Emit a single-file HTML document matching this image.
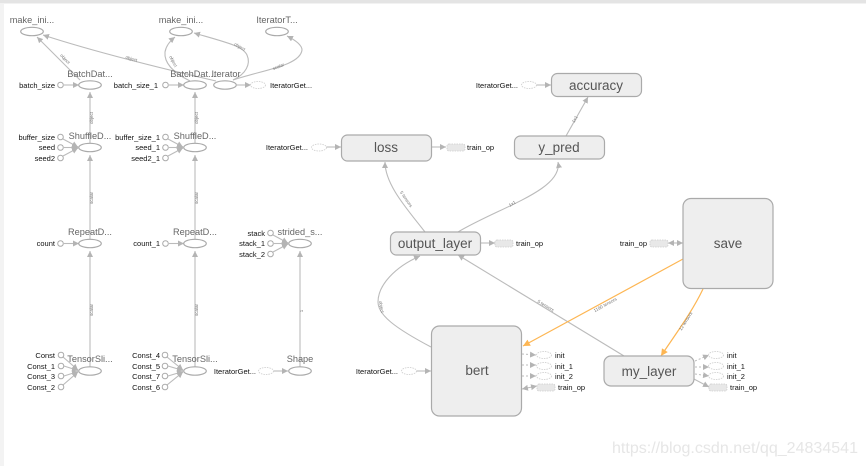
<!DOCTYPE html>
<html><head><meta charset="utf-8"><style>
html,body{margin:0;padding:0;background:#fff}
svg{display:block;filter:blur(.25px)}
text{font-family:"Liberation Sans",sans-serif}
.n{font-size:9.200px;fill:#666;text-anchor:middle}
.s{font-size:7.500px;fill:#111;text-anchor:end}
.l{font-size:7.500px;fill:#111}
.b{font-size:13.500px;fill:#555;text-anchor:middle}
.t{font-size:4.500px;fill:#777;text-anchor:middle}
.e{fill:none;stroke:#bbb;stroke-width:1.100}
.o{fill:none;stroke:#fdb653;stroke-width:1.200}
.d{fill:none;stroke:#bbb;stroke-width:1;stroke-dasharray:2 2}
.m{fill:#fff;stroke:#aaa;stroke-width:1.200}
.c{fill:#fff;stroke:#aaa;stroke-width:1}
.g{fill:#fff;stroke:#ccc;stroke-width:.8;stroke-dasharray:1.500 1}
.h{fill:#e8e8e8;stroke:#ccc;stroke-width:.8;stroke-dasharray:1.500 1}
.r{fill:#eee;stroke:#aaa;stroke-width:1.200}
</style></head><body>
<svg width="866" height="466" viewBox="0 0 866 466" xmlns="http://www.w3.org/2000/svg">
<defs>
<marker id="a" markerWidth="7" markerHeight="7" refX="6" refY="3" orient="auto-start-reverse" markerUnits="userSpaceOnUse"><path d="M0 0L6 3L0 6z" fill="#b4b4b4"/></marker>
<marker id="y" markerWidth="8" markerHeight="8" refX="7" refY="3.500" orient="auto" markerUnits="userSpaceOnUse"><path d="M0 0L7 3.500L0 7z" fill="#fdb653"/></marker>
</defs>
<rect width="866" height="466" fill="#fff"/>
<rect x="0" y="0" width="4" height="466" fill="#f3f3f3"/>
<rect x="0" y="0" width="866" height="3" fill="#e4e4e4"/>
<rect x="0" y="3" width="866" height="1" fill="#f2f2f2"/>

<g>
<path class="e" d="M80 80L37 37" marker-end="url(#a)"/>
<path class="e" d="M216 81C160 68 95 52 43 35" marker-end="url(#a)"/>
<path class="e" d="M190 81C172 72 164 62 165 52C166 46 170 41 175 37" marker-end="url(#a)"/>
<path class="e" d="M233 80C246 74 251 64 247 55C243 46 225 42 194 33" marker-end="url(#a)"/>
<path class="e" d="M233 80C262 70 300 66 302 50C302 45 295 40 287 36" marker-end="url(#a)"/>
<path class="e" d="M237 85H251" marker-end="url(#a)"/>
<path class="e" d="M64 85H79" marker-end="url(#a)"/>
<path class="e" d="M169 85H184" marker-end="url(#a)"/>
<path class="e" d="M90 143V92" marker-end="url(#a)"/>
<path class="e" d="M195 143V92" marker-end="url(#a)"/>
<path class="e" d="M90 239V155" marker-end="url(#a)"/>
<path class="e" d="M195 239V155" marker-end="url(#a)"/>
<path class="e" d="M90 367V251" marker-end="url(#a)"/>
<path class="e" d="M195 367V251" marker-end="url(#a)"/>
<path class="e" d="M300 367V251" marker-end="url(#a)"/>
<path class="e" d="M63 139L78 147" marker-end="url(#a)"/>
<path class="e" d="M64 147.500H78" marker-end="url(#a)"/>
<path class="e" d="M63 156L78 148" marker-end="url(#a)"/>
<path class="e" d="M168 139L183 147" marker-end="url(#a)"/>
<path class="e" d="M169 147.500H183" marker-end="url(#a)"/>
<path class="e" d="M168 156L183 148" marker-end="url(#a)"/>
<path class="e" d="M64 243.500H79" marker-end="url(#a)"/>
<path class="e" d="M169 243.500H184" marker-end="url(#a)"/>
<path class="e" d="M273 235L288 243" marker-end="url(#a)"/>
<path class="e" d="M274 243.500H288" marker-end="url(#a)"/>
<path class="e" d="M273 252L288 244" marker-end="url(#a)"/>
<path class="e" d="M63 357L78 370" marker-end="url(#a)"/>
<path class="e" d="M64 366L78 370.500" marker-end="url(#a)"/>
<path class="e" d="M64 376L78 371.500" marker-end="url(#a)"/>
<path class="e" d="M63 385L78 372" marker-end="url(#a)"/>
<path class="e" d="M167 357L183 370" marker-end="url(#a)"/>
<path class="e" d="M168 366L183 370.500" marker-end="url(#a)"/>
<path class="e" d="M168 376L183 371.500" marker-end="url(#a)"/>
<path class="e" d="M167 385L183 372" marker-end="url(#a)"/>
<path class="e" d="M273 371H288" marker-end="url(#a)"/>
<path class="e" d="M326 147H341" marker-end="url(#a)"/>
<path class="e" d="M431 147H446" marker-end="url(#a)"/>
<path class="e" d="M536 85H551" marker-end="url(#a)"/>
<path class="e" d="M566 136L588 97" marker-end="url(#a)"/>
<path class="e" d="M425 232C408 210 385 185 385 162" marker-end="url(#a)"/>
<path class="e" d="M458 232C500 207 563 190 558 162" marker-end="url(#a)"/>
<path class="e" d="M481 243H495" marker-end="url(#a)"/>
<path class="e" d="M431 347C395 328 378 315 378 302C378 285 395 267 420 256" marker-end="url(#a)"/>
<path class="e" d="M624 356L458 255" marker-end="url(#a)"/>
<path class="e" d="M416 371H431" marker-end="url(#a)"/>
<path class="e" d="M668 243H683" marker-start="url(#a)" marker-end="url(#a)"/>
<path class="e" d="M522 389L537 386" marker-start="url(#a)" marker-end="url(#a)"/>
<path class="e" d="M694 379L709 387" marker-end="url(#a)"/>
<path class="d" d="M522 354L536 355" marker-end="url(#a)"/>
<path class="d" d="M522 365H536" marker-end="url(#a)"/>
<path class="d" d="M522 376H536" marker-end="url(#a)"/>
<path class="d" d="M695 361L709 355" marker-end="url(#a)"/>
<path class="d" d="M695 367H709" marker-end="url(#a)"/>
<path class="d" d="M695 374L709 376" marker-end="url(#a)"/>
</g>
<path class="o" d="M683 259L523 346" marker-end="url(#y)"/>
<path class="o" d="M703 289C692 312 677 332 661 356" marker-end="url(#y)"/>

<g class="c">
<circle cx="60.500" cy="85" r="2.800"/><circle cx="165.500" cy="85" r="2.800"/>
<circle cx="60.500" cy="137" r="2.800"/><circle cx="60.500" cy="147.500" r="2.800"/><circle cx="60.500" cy="158" r="2.800"/>
<circle cx="165.500" cy="137" r="2.800"/><circle cx="165.500" cy="147.500" r="2.800"/><circle cx="165.500" cy="158" r="2.800"/>
<circle cx="60.500" cy="243.500" r="2.800"/><circle cx="165.500" cy="243.500" r="2.800"/>
<circle cx="270.500" cy="233" r="2.800"/><circle cx="270.500" cy="243.500" r="2.800"/><circle cx="270.500" cy="254" r="2.800"/>
<circle cx="61" cy="355" r="2.800"/><circle cx="61" cy="366" r="2.800"/><circle cx="61" cy="376" r="2.800"/><circle cx="61" cy="387" r="2.800"/>
<circle cx="165" cy="355" r="2.800"/><circle cx="165" cy="366" r="2.800"/><circle cx="165" cy="376" r="2.800"/><circle cx="165" cy="387" r="2.800"/>
</g>
<g class="m">
<ellipse cx="32" cy="31.500" rx="11.300" ry="4.200"/><ellipse cx="181" cy="31.500" rx="11.300" ry="4.200"/><ellipse cx="277" cy="31.500" rx="11.300" ry="4.200"/>
<ellipse cx="90" cy="85" rx="11.300" ry="4.200"/><ellipse cx="195" cy="85" rx="11.300" ry="4.200"/><ellipse cx="225" cy="85" rx="11.300" ry="4.200"/>
<ellipse cx="90" cy="147.500" rx="11.300" ry="4.200"/><ellipse cx="195" cy="147.500" rx="11.300" ry="4.200"/>
<ellipse cx="90" cy="243.500" rx="11.300" ry="4.200"/><ellipse cx="195" cy="243.500" rx="11.300" ry="4.200"/><ellipse cx="300" cy="243.500" rx="11.300" ry="4.200"/>
<ellipse cx="90" cy="371" rx="11.300" ry="4.200"/><ellipse cx="195" cy="371" rx="11.300" ry="4.200"/><ellipse cx="300" cy="371" rx="11.300" ry="4.200"/>
</g>
<g class="g">
<ellipse cx="258" cy="85" rx="7.500" ry="3.500"/><ellipse cx="319" cy="147.500" rx="7.500" ry="3.500"/><ellipse cx="529" cy="85" rx="7.500" ry="3.500"/>
<ellipse cx="266" cy="371" rx="7.500" ry="3.500"/><ellipse cx="409" cy="371" rx="7.500" ry="3.500"/>
<ellipse cx="544" cy="355" rx="7.500" ry="3.500"/><ellipse cx="544" cy="366" rx="7.500" ry="3.500"/><ellipse cx="544" cy="376" rx="7.500" ry="3.500"/>
<ellipse cx="716" cy="355" rx="7.500" ry="3.500"/><ellipse cx="716" cy="366" rx="7.500" ry="3.500"/><ellipse cx="716" cy="376" rx="7.500" ry="3.500"/>
</g>
<g class="h">
<rect x="447" y="144" width="18" height="7" rx="2"/><rect x="495" y="240" width="18" height="7" rx="2"/><rect x="650" y="240" width="18" height="7" rx="2"/>
<rect x="537" y="384" width="18" height="7" rx="2"/><rect x="709" y="384" width="18" height="7" rx="2"/>
</g>
<rect class="r" x="551.500" y="73.500" width="90" height="23" rx="6"/>
<rect class="r" x="341.500" y="135" width="90" height="26" rx="6"/>
<rect class="r" x="514.500" y="136" width="90" height="23" rx="6"/>
<rect class="r" x="390.500" y="232" width="90" height="23" rx="6"/>
<rect class="r" x="431.500" y="326" width="90" height="90" rx="8"/>
<rect class="r" x="604" y="356" width="90" height="30" rx="7"/>
<rect class="r" x="683" y="198.500" width="90" height="90" rx="8"/>

<text class="n" x="32" y="23">make_ini...</text>
<text class="n" x="181" y="23">make_ini...</text>
<text class="n" x="277" y="23">IteratorT...</text>
<text class="n" x="90" y="77">BatchDat...</text>
<text class="n" x="193" y="77">BatchDat...</text>
<text class="n" x="226" y="77">Iterator</text>
<text class="n" x="90" y="139">ShuffleD...</text>
<text class="n" x="195" y="139">ShuffleD...</text>
<text class="n" x="90" y="235">RepeatD...</text>
<text class="n" x="195" y="235">RepeatD...</text>
<text class="n" x="300" y="235">strided_s...</text>
<text class="n" x="90" y="362">TensorSli...</text>
<text class="n" x="195" y="362">TensorSli...</text>
<text class="n" x="300" y="362">Shape</text>

<text class="s" x="55" y="88">batch_size</text>
<text class="s" x="158" y="88">batch_size_1</text>
<text class="s" x="55" y="140">buffer_size</text>
<text class="s" x="55" y="150">seed</text>
<text class="s" x="55" y="161">seed2</text>
<text class="s" x="160" y="140">buffer_size_1</text>
<text class="s" x="160" y="150">seed_1</text>
<text class="s" x="160" y="161">seed2_1</text>
<text class="s" x="55" y="246">count</text>
<text class="s" x="160" y="246">count_1</text>
<text class="s" x="265" y="236">stack</text>
<text class="s" x="265" y="246">stack_1</text>
<text class="s" x="265" y="257">stack_2</text>
<text class="s" x="55" y="358">Const</text>
<text class="s" x="55" y="369">Const_1</text>
<text class="s" x="55" y="379">Const_3</text>
<text class="s" x="55" y="390">Const_2</text>
<text class="s" x="160" y="358">Const_4</text>
<text class="s" x="160" y="369">Const_5</text>
<text class="s" x="160" y="379">Const_7</text>
<text class="s" x="160" y="390">Const_6</text>
<text class="s" x="256" y="374">IteratorGet...</text>
<text class="s" x="398" y="374">IteratorGet...</text>
<text class="s" x="308" y="150">IteratorGet...</text>
<text class="s" x="518" y="88">IteratorGet...</text>
<text class="s" x="647" y="246">train_op</text>
<text class="l" x="270" y="88">IteratorGet...</text>
<text class="l" x="467" y="150">train_op</text>
<text class="l" x="516" y="246">train_op</text>
<text class="l" x="555" y="358">init</text>
<text class="l" x="555" y="369">init_1</text>
<text class="l" x="555" y="379">init_2</text>
<text class="l" x="558" y="390">train_op</text>
<text class="l" x="727" y="358">init</text>
<text class="l" x="727" y="369">init_1</text>
<text class="l" x="727" y="379">init_2</text>
<text class="l" x="730" y="390">train_op</text>

<text class="b" x="596" y="90">accuracy</text>
<text class="b" x="386" y="152">loss</text>
<text class="b" x="559" y="152">y_pred</text>
<text class="b" x="435" y="248">output_layer</text>
<text class="b" x="477" y="375">bert</text>
<text class="b" x="649" y="376">my_layer</text>
<text class="b" x="728" y="248">save</text>

<text class="t" transform="translate(64 60) rotate(46)">object</text>
<text class="t" transform="translate(131 60) rotate(17)">object</text>
<text class="t" transform="translate(172 62) rotate(62)">object</text>
<text class="t" transform="translate(239 48) rotate(30)">object</text>
<text class="t" transform="translate(279 68) rotate(-22)">scalar</text>
<text class="t" transform="translate(93 118) rotate(-90)">object</text>
<text class="t" transform="translate(198 118) rotate(-90)">object</text>
<text class="t" transform="translate(93 198) rotate(-90)">scalar</text>
<text class="t" transform="translate(198 198) rotate(-90)">scalar</text>
<text class="t" transform="translate(93 310) rotate(-90)">scalar</text>
<text class="t" transform="translate(198 310) rotate(-90)">scalar</text>
<text class="t" transform="translate(303 311) rotate(-90)">1</text>
<text class="t" transform="translate(405 200) rotate(55)">5 tensors</text>
<text class="t" transform="translate(513 205) rotate(-30)">1x1</text>
<text class="t" transform="translate(576 120) rotate(-60)">1x1</text>
<text class="t" transform="translate(380 307) rotate(80)">object</text>
<text class="t" transform="translate(545 307) rotate(31)">5 tensors</text>
<text class="t" transform="translate(606 306) rotate(-29)">1190 tensors</text>
<text class="t" transform="translate(687 322) rotate(-58)">12 tensors</text>

<text x="612" y="453" textLength="246" lengthAdjust="spacingAndGlyphs" style="font-size:16px;fill:#e6e6e6">https://blog.csdn.net/qq_24834541</text>
</svg>
</body></html>
